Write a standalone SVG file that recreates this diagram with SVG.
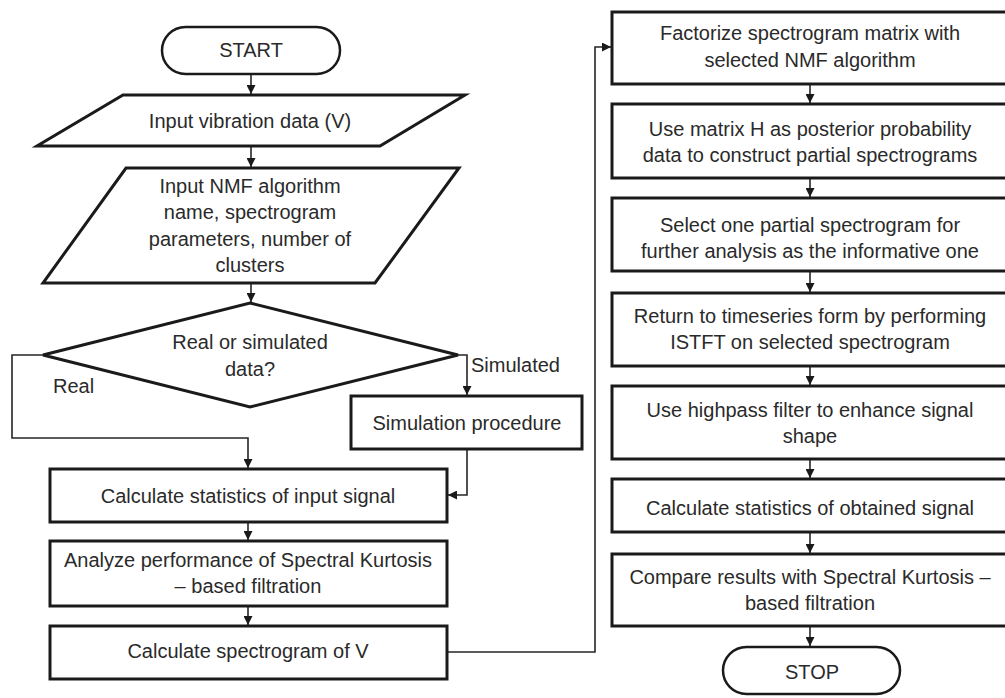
<svg xmlns="http://www.w3.org/2000/svg" width="1005" height="698" viewBox="0 0 1005 698">
<style>
  .box { fill: #fff; stroke: #1a1a1a; stroke-width: 3; }
  .term { fill: #fff; stroke: #1a1a1a; stroke-width: 2.5; }
  .t { font-family: "Liberation Sans", Arial, sans-serif; font-size: 20px; fill: #2a2a2a; text-anchor: middle; }
  .lbl { font-family: "Liberation Sans", Arial, sans-serif; font-size: 20px; fill: #2a2a2a; }
  .c { fill: none; stroke: #262626; stroke-width: 1.6; marker-end: url(#ah); }
  .cn { fill: none; stroke: #262626; stroke-width: 1.6; }
</style>
<defs>
  <marker id="ah" viewBox="0 0 10 10" refX="10" refY="5" markerWidth="9" markerHeight="9" markerUnits="userSpaceOnUse" orient="auto">
    <path d="M0,0 L10,5 L0,10 z" fill="#1a1a1a"/>
  </marker>
</defs>
<rect width="1005" height="698" fill="#fff"/>

<g id="connectors">
  <line class="c" x1="251" y1="75" x2="251" y2="94"/>
  <line class="c" x1="251" y1="147" x2="251" y2="167"/>
  <line class="c" x1="251" y1="284" x2="251" y2="302"/>
  <polyline class="c" points="43,355 12,355 12,438 248,438 248,468"/>
  <polyline class="c" points="458,355 467,355 467,395"/>
  <polyline class="c" points="467,450 467,495 448,495"/>
  <line class="c" x1="248" y1="523" x2="248" y2="540"/>
  <line class="c" x1="248" y1="607" x2="248" y2="625"/>
  <polyline class="c" points="448,652 595,652 595,47 611,47"/>
  <line class="c" x1="810" y1="85" x2="810" y2="103"/>
  <line class="c" x1="810" y1="179" x2="810" y2="197"/>
  <line class="c" x1="810" y1="272" x2="810" y2="292"/>
  <line class="c" x1="810" y1="367" x2="810" y2="385"/>
  <line class="c" x1="810" y1="460" x2="810" y2="478"/>
  <line class="c" x1="810" y1="533" x2="810" y2="553"/>
  <line class="c" x1="810" y1="627" x2="810" y2="646"/>
</g>

<g id="n_start">
  <rect class="term" x="162" y="27" width="178" height="47" rx="23.5" ry="23.5"/>
  <text class="t" x="251" y="57">START</text>
</g>
<g id="n_input_v">
  <polygon class="box" points="123,95 465,95 380,146 37,146"/>
  <text class="t" x="250" y="128">Input vibration data (V)</text>
</g>
<g id="n_input_nmf">
  <polygon class="box" points="126,168 459,168 375,283 43,283"/>
  <text class="t" x="250" y="193">Input NMF algorithm</text>
  <text class="t" x="250" y="219">name, spectrogram</text>
  <text class="t" x="250" y="246">parameters, number of</text>
  <text class="t" x="250" y="272">clusters</text>
</g>
<g id="n_decision">
  <polygon class="box" points="250,303 458,355 250,407 43,355"/>
  <text class="t" x="250" y="349">Real or simulated</text>
  <text class="t" x="250" y="376">data?</text>
</g>
<g id="labels">
  <text class="lbl" x="53" y="393">Real</text>
  <text class="lbl" x="471" y="372">Simulated</text>
</g>
<g id="n_sim">
  <rect class="box" x="351" y="396" width="231" height="53"/>
  <text class="t" x="467" y="430">Simulation procedure</text>
</g>
<g id="n_calc_input">
  <rect class="box" x="50" y="469" width="397" height="53"/>
  <text class="t" x="248" y="503">Calculate statistics of input signal</text>
</g>
<g id="n_analyze">
  <rect class="box" x="50" y="541" width="397" height="65"/>
  <text class="t" x="248" y="567">Analyze performance of Spectral Kurtosis</text>
  <text class="t" x="248" y="593">– based filtration</text>
</g>
<g id="n_spectrogram">
  <rect class="box" x="50" y="626" width="397" height="53"/>
  <text class="t" x="248" y="658">Calculate spectrogram of V</text>
</g>

<g id="n_factorize">
  <rect class="box" x="612" y="12" width="400" height="72"/>
  <text class="t" x="810" y="40">Factorize spectrogram matrix with</text>
  <text class="t" x="810" y="67">selected NMF algorithm</text>
</g>
<g id="n_matrix_h">
  <rect class="box" x="612" y="104" width="400" height="74"/>
  <text class="t" x="810" y="136">Use matrix H as posterior probability</text>
  <text class="t" x="810" y="162">data to construct partial spectrograms</text>
</g>
<g id="n_select">
  <rect class="box" x="612" y="198" width="400" height="73"/>
  <text class="t" x="810" y="232">Select one partial spectrogram for</text>
  <text class="t" x="810" y="258">further analysis as the informative one</text>
</g>
<g id="n_istft">
  <rect class="box" x="612" y="293" width="400" height="73"/>
  <text class="t" x="810" y="323">Return to timeseries form by performing</text>
  <text class="t" x="810" y="349">ISTFT on selected spectrogram</text>
</g>
<g id="n_highpass">
  <rect class="box" x="612" y="386" width="400" height="73"/>
  <text class="t" x="810" y="417">Use highpass filter to enhance signal</text>
  <text class="t" x="810" y="443">shape</text>
</g>
<g id="n_calc_obtained">
  <rect class="box" x="612" y="479" width="400" height="53"/>
  <text class="t" x="810" y="515">Calculate statistics of obtained signal</text>
</g>
<g id="n_compare">
  <rect class="box" x="612" y="554" width="400" height="72"/>
  <text class="t" x="810" y="584">Compare results with Spectral Kurtosis –</text>
  <text class="t" x="810" y="610">based filtration</text>
</g>
<g id="n_stop">
  <rect class="term" x="723" y="647" width="177" height="47" rx="23.5" ry="23.5"/>
  <text class="t" x="812" y="679">STOP</text>
</g>
</svg>
